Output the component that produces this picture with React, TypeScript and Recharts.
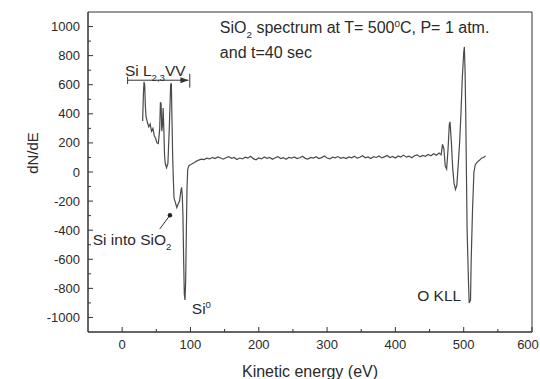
import { LineChart, Line, XAxis, YAxis, ReferenceArea, ReferenceLine, ReferenceDot } from "recharts";

// Si L2,3VV region (eV, dN/dE)
const siEnergy = [30, 31, 32, 33, 34, 35, 37, 39, 41, 43, 45, 47, 49, 51, 53, 55, 56, 57, 58, 59, 60, 61, 62, 63, 65, 67, 69, 71, 72, 73, 74, 75, 76, 78, 80, 82, 84, 86, 87, 88, 89, 90, 91, 92, 93, 94, 95, 96, 98, 100, 103, 106, 109];
const siSignal = [350, 520, 620, 600, 450, 380, 340, 310, 330, 280, 300, 250, 230, 200, 195, 300, 480, 470, 280, 320, 440, 300, 120, 60, 30, 60, 300, 600, 610, 350, 100, -60, -180, -210, -245, -220, -200, -130, -105, -160, -300, -600, -840, -880, -750, -400, -100, 20, 45, 50, 58, 65, 75];

// flat part, sampled every 4 eV from 112 eV
const flatStart = 112;
const flatStep = 4;
const flatSignal = [
  82, 88, 85, 95, 90, 100, 92, 104, 96, 88, 98, 106, 94, 100, 86, 96, 90, 102, 95, 108,
  92, 84, 97, 90, 103, 94, 100, 88, 98, 106, 93, 99, 87, 101, 95, 104, 92, 98, 108, 94,
  89, 100, 96, 105, 92, 99, 110, 96, 90, 102, 97, 106, 94, 100, 92, 103, 98, 108, 95, 101,
  112, 98, 104, 93, 106, 100, 110, 97, 104, 114, 100, 107, 96, 110, 103, 116, 102, 109, 98, 112,
  118, 104, 114, 108, 120, 112, 126, 115, 130,
];

// O KLL region
const oEnergy = [467, 469, 471, 473, 475, 477, 479, 480, 482, 484, 486, 488, 490, 492, 494, 496, 498, 500, 501, 502, 503, 504, 505, 507, 508, 510, 511, 513, 515, 517, 520, 523, 526, 529, 532];
const oSignal = [118, 190, 160, 40, 20, 150, 330, 345, 200, 20, -80, -120, -90, 50, 200, 400, 650, 820, 860, 700, 400, 0, -400, -750, -900, -880, -600, -250, 0, 50, 70, 80, 95, 100, 110];

const xTicks = [0, 50, 100, 150, 200, 250, 300, 350, 400, 450, 500, 550, 600];
const yTicks = [-1000, -900, -800, -700, -600, -500, -400, -300, -200, -100, 0, 100, 200, 300, 400, 500, 600, 700, 800, 900, 1000];

const spectrum = [
  ...siEnergy.map((e, i) => ({ e, v: siSignal[i] })),
  ...flatSignal.map((v, i) => ({ e: flatStart + i * flatStep, v })),
  ...oEnergy.map((e, i) => ({ e, v: oSignal[i] })),
];

const FONT = '"Liberation Sans", Arial, sans-serif';
const INK = "#2a2a2a";

type Part = { t: string; s?: "sub" | "sup" };

function richText(parts: Part[], size: number, anchor: "start" | "middle" | "end" = "start") {
  return (props: any) => {
    const vb = props.viewBox || {};
    const small = size * 0.62;
    const spans: any[] = [];
    let shift = 0;
    parts.forEach((p, i) => {
      const target = p.s === "sub" ? size * 0.32 : p.s === "sup" ? -size * 0.42 : 0;
      spans.push(
        <tspan key={i} dy={target - shift} fontSize={p.s ? small : size}>
          {p.t}
        </tspan>
      );
      shift = target;
    });
    return (
      <text x={vb.x} y={vb.y + size * 0.36} fontFamily={FONT} fontSize={size} fill={INK} textAnchor={anchor}>
        {spans}
      </text>
    );
  };
}

const XTick = (props: any) => {
  const { x, y, payload } = props;
  const major = payload.value % 100 === 0;
  return (
    <g>
      <line x1={x} y1={y} x2={x} y2={y - (major ? 5 : 3)} stroke="#333" />
      {major && (
        <text x={Math.min(x, 528)} y={y + 17} textAnchor="middle" fontFamily={FONT} fontSize={13} fill={INK}>
          {payload.value}
        </text>
      )}
    </g>
  );
};

const YTick = (props: any) => {
  const { x, y, payload } = props;
  const major = payload.value % 200 === 0;
  return (
    <g>
      <line x1={x} y1={y} x2={x + (major ? 5 : 3)} y2={y} stroke="#333" />
      {major && (
        <text x={x - 8} y={y + 4.5} textAnchor="end" fontFamily={FONT} fontSize={13} fill={INK}>
          {payload.value}
        </text>
      )}
    </g>
  );
};

export default function App() {
  return (
    <div style={{ position: "absolute", left: 0, top: 0, background: "#fff" }}>
      <LineChart width={540} height={379} data={spectrum} margin={{ top: 12, right: 8, left: 0, bottom: 0 }}>
        <XAxis
          dataKey="e"
          type="number"
          domain={[-50, 600]}
          ticks={xTicks}
          interval={0}
          tickSize={0}
          tickMargin={0}
          tickLine={false}
          height={47}
          axisLine={{ stroke: "#333" }}
          tick={<XTick />}
          label={{
            content: (p: any) => (
              <text x={p.viewBox.x + p.viewBox.width / 2} y={p.viewBox.y + 45} textAnchor="middle" fontFamily={FONT} fontSize={16} fill={INK}>
                Kinetic energy (eV)
              </text>
            ),
          }}
        />
        <YAxis
          type="number"
          domain={[-1100, 1100]}
          ticks={yTicks}
          interval={0}
          width={88}
          tickSize={0}
          tickMargin={0}
          tickLine={false}
          axisLine={{ stroke: "#333" }}
          tick={<YTick />}
          label={{
            content: (p: any) => (
              <text
                transform={`translate(${p.viewBox.x + 38},${p.viewBox.y + 141}) rotate(-90)`}
                textAnchor="middle"
                fontFamily={FONT}
                fontSize={15}
                fill={INK}
              >
                dN/dE
              </text>
            ),
          }}
        />
        <ReferenceArea x1={-50} x2={600} y1={-1100} y2={1100} fill="none" stroke="#333" />
        <Line type="linear" dataKey="v" stroke="#4a4a4a" strokeWidth={1.2} dot={false} isAnimationActive={false} />

        {/* Si L2,3VV range marker */}
        <ReferenceLine segment={[{ x: 8, y: 631 }, { x: 97, y: 631 }]} stroke="#333" />
        <ReferenceLine segment={[{ x: 8, y: 605 }, { x: 8, y: 655 }]} stroke="#333" />
        <ReferenceLine segment={[{ x: 99, y: 580 }, { x: 99, y: 675 }]} stroke="#333" />
        <ReferenceDot
          x={97}
          y={631}
          r={3}
          shape={(p: any) => <path d={`M${p.cx},${p.cy} l-8,-3 l0,6 z`} fill="#333" />}
        />
        <ReferenceDot x={4} y={700} r={0} fill="none" stroke="none"
          label={{ content: richText([{ t: "Si L" }, { t: "2,3", s: "sub" }, { t: "VV" }], 15.5) }} />

        {/* Si into SiO2 pointer */}
        <ReferenceLine segment={[{ x: 55, y: -392 }, { x: 70, y: -297 }]} stroke="#333" />
        <ReferenceDot x={70} y={-297} r={2.2} fill="#222" stroke="none" />
        <ReferenceDot x={-43} y={-461} r={0} fill="none" stroke="none"
          label={{ content: richText([{ t: "Si into SiO" }, { t: "2", s: "sub" }], 15.5) }} />

        <ReferenceDot x={102} y={-939} r={0} fill="none" stroke="none"
          label={{ content: richText([{ t: "Si" }, { t: "0", s: "sup" }], 15.5) }} />
        <ReferenceDot x={432} y={-850} r={0} fill="none" stroke="none"
          label={{ content: richText([{ t: "O KLL" }], 15.5) }} />

        <ReferenceDot x={143} y={993} r={0} fill="none" stroke="none"
          label={{
            content: richText(
              [{ t: "SiO" }, { t: "2", s: "sub" }, { t: " spectrum at T= 500" }, { t: "0", s: "sup" }, { t: "C, P= 1 atm." }],
              16
            ),
          }} />
        <ReferenceDot x={143} y={822} r={0} fill="none" stroke="none"
          label={{ content: richText([{ t: "and t=40 sec" }], 16) }} />
      </LineChart>
    </div>
  );
}
